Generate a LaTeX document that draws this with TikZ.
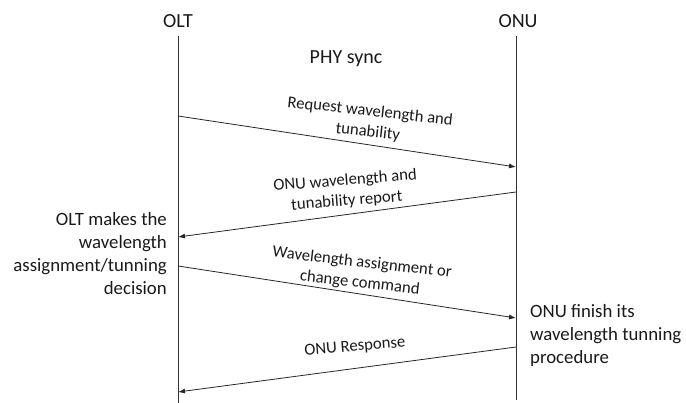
\documentclass[tikz,border=0pt]{standalone}
\usepackage{fontspec}
\setmainfont{Carlito}
\usetikzlibrary{arrows.meta}
\begin{document}
\begin{tikzpicture}[x=1pt,y=-1pt,
  lifeline/.style={draw=black!80, line width=0.8pt},
  msg/.style={draw=black!85, line width=0.8pt, -{Latex[length=7pt,width=5pt]}},
  entity/.style={font=\fontsize{20}{24}\selectfont, text=black!90, inner sep=0pt, anchor=base},
  msglabel/.style={font=\fontsize{16.7}{20.5}\selectfont, text=black!90, align=center, inner sep=0pt},
  note/.style={font=\fontsize{18.8}{23}\selectfont, text=black!90, inner sep=0pt}]
\useasboundingbox (0,0) rectangle (686,403);

% entities and lifelines
\node[entity] (olt) at (178,27.3) {OLT};
\node[entity] (onu) at (518,27.3) {ONU};
\coordinate (oltTop) at (178,36);
\coordinate (oltBot) at (178,403);
\coordinate (onuTop) at (516,36);
\coordinate (onuBot) at (516,400);
\draw[lifeline] (oltTop) -- (oltBot);
\draw[lifeline] (onuTop) -- (onuBot);

\node[entity] (phy) at (346,64) {PHY sync};

% message end points
\coordinate (a1) at (178,116);
\coordinate (b1) at (516,167);
\coordinate (b2) at (516,192);
\coordinate (a2) at (178,237);
\coordinate (a3) at (178,266);
\coordinate (b3) at (516,318);
\coordinate (b4) at (516,347);
\coordinate (a4) at (178,392);

\draw[msg] (a1) -- (b1);
\draw[msg] (b2) -- (a2);
\draw[msg] (a3) -- (b3);
\draw[msg] (b4) -- (a4);

% message labels
\node[msglabel, rotate=-6.3] (l1) at (369,122) {Request wavelength and\\tunability};
\node[msglabel, rotate=4.5] (l2) at (346,191) {ONU wavelength and\\tunability report};
\node[msglabel, rotate=-6.6] (l3) at (361,273) {Wavelength assignment or\\change command};
\node[msglabel, rotate=4.8] (l4) at (355,347) {ONU Response};

% side notes
\node[note, align=right, anchor=north east] (n1) at (167,212.5) {OLT makes the\\wavelength\\assignment/tunning\\decision};
\node[note, align=left, anchor=north west] (n2) at (530,304.5) {ONU finish its\\wavelength tunning\\procedure};
\end{tikzpicture}
\end{document}
